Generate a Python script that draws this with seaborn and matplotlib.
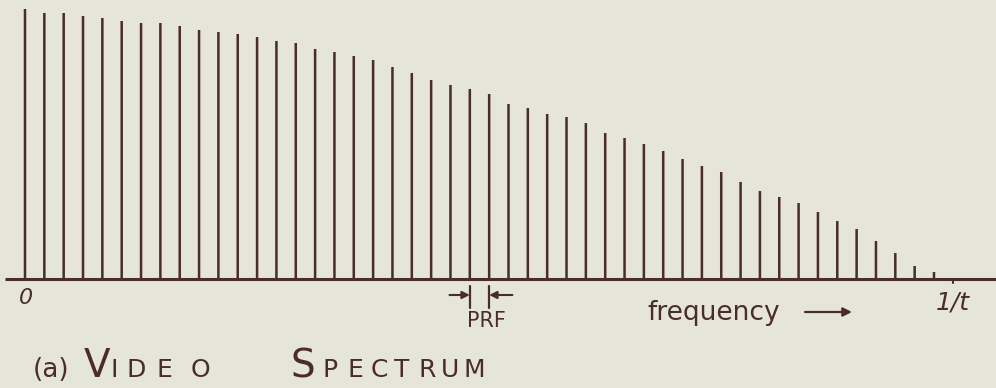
import matplotlib
matplotlib.use('Agg')
import matplotlib.pyplot as plt
import seaborn as sns
import pandas as pd

# spectral lines: harmonic number (multiple of the PRF) and line height
harmonic = list(range(48))
amplitude = [270, 266, 266, 263, 261, 258, 256, 256, 253, 249,
             247, 245, 242, 238, 236, 230, 227, 223, 219, 212,
             206, 199, 194, 190, 185, 175, 171, 165, 162, 156,
             146, 141, 135, 128, 120, 113, 107, 97, 88, 82,
             76, 67, 58, 50, 38, 26, 13, 7]
cutoff = 48          # the 1/t point on the frequency axis
prf_pair = (23, 24)  # the two lines marked with the PRF arrows

title_big = [("V", 97), ("S", 303)]
title_small = [("I", 114), ("D", 136), ("E", 164), ("O", 200),
               ("P", 330), ("E", 355), ("C", 379), ("T", 402),
               ("R", 427), ("U", 450), ("M", 474)]

INK = "#4a2c2c"
PAPER = "#e6e6d8"

sns.set_theme(style="white")
plt.rcParams['font.family'] = ['DejaVu Sans']

# sketch geometry in pixels: first line at x=25, line pitch 19.34 px, baseline at y=279
X0, DX, Y0 = 25, 19.34, 279


def px(x, y):
    """pixel position on the 996x388 sheet -> data coordinates"""
    return (x - X0) / DX, Y0 - y


df = pd.DataFrame({"harmonic": harmonic, "amplitude": amplitude})

fig = plt.figure(figsize=(9.96, 3.88), dpi=100)
fig.patch.set_facecolor(PAPER)
ax = fig.add_axes([0, 0, 1, 1])
ax.set_facecolor(PAPER)

sns.barplot(data=df, x="harmonic", y="amplitude", native_scale=True,
            width=0.13, color=INK, saturation=1, linewidth=0,
            errorbar=None, ax=ax)
for bar in ax.patches:
    bar.set_snap(False)

ax.set_xlim(px(0, 0)[0], px(996, 0)[0])
ax.set_ylim(Y0 - 388, Y0)
ax.set_axis_off()

# baseline
ax.plot([px(5, 0)[0], px(996, 0)[0]], [0, 0], color=INK, lw=2.2,
        solid_capstyle='butt')
# tick at 1/t
ax.plot([cutoff, cutoff], [0, -4], color=INK, lw=1.5)

# PRF spacing marker
a, b = prf_pair
ya = px(0, 295)[1]
for xb, xt in ((a, a - 1.05), (b, b + 1.2)):
    ax.plot([xb, xb], [px(0, 286)[1], px(0, 308)[1]], color=INK, lw=1.6)
    ax.annotate("", xy=(xb, ya), xytext=(xt, ya),
                arrowprops=dict(arrowstyle='-|>', color=INK, lw=1.5,
                                mutation_scale=11, shrinkA=0, shrinkB=0))
ax.text(*px(486, 321), "PRF", color=INK, fontsize=15, ha='center',
        va='center')

ax.text(*px(26, 298), "0", color=INK, fontsize=16, style='italic',
        ha='center', va='center')
ax.text(cutoff - 0.05, px(0, 302)[1], "1/t", color=INK, fontsize=18,
        style='italic', ha='center', va='center')

ax.text(*px(647, 320), "frequency", color=INK, fontsize=19,
        ha='left', va='baseline')
fy = px(0, 312)[1]
ax.annotate("", xy=(px(852, 0)[0], fy), xytext=(px(805, 0)[0], fy),
            arrowprops=dict(arrowstyle='-|>', color=INK, lw=1.6,
                            mutation_scale=13, shrinkA=0, shrinkB=0))

# title "(a) VIDEO SPECTRUM" in hand-lettered small caps
tb = px(0, 377)[1]
ax.text(px(33, 0)[0], tb, "(a)", color=INK, fontsize=19,
        ha='left', va='baseline')
for ch, x in title_big:
    ax.text(px(x, 0)[0], tb, ch, color=INK, fontsize=28,
            ha='center', va='baseline')
for ch, x in title_small:
    ax.text(px(x, 0)[0], tb, ch, color=INK, fontsize=18,
            ha='center', va='baseline')

plt.savefig("out.png", dpi=100, facecolor=PAPER)
plt.close()
